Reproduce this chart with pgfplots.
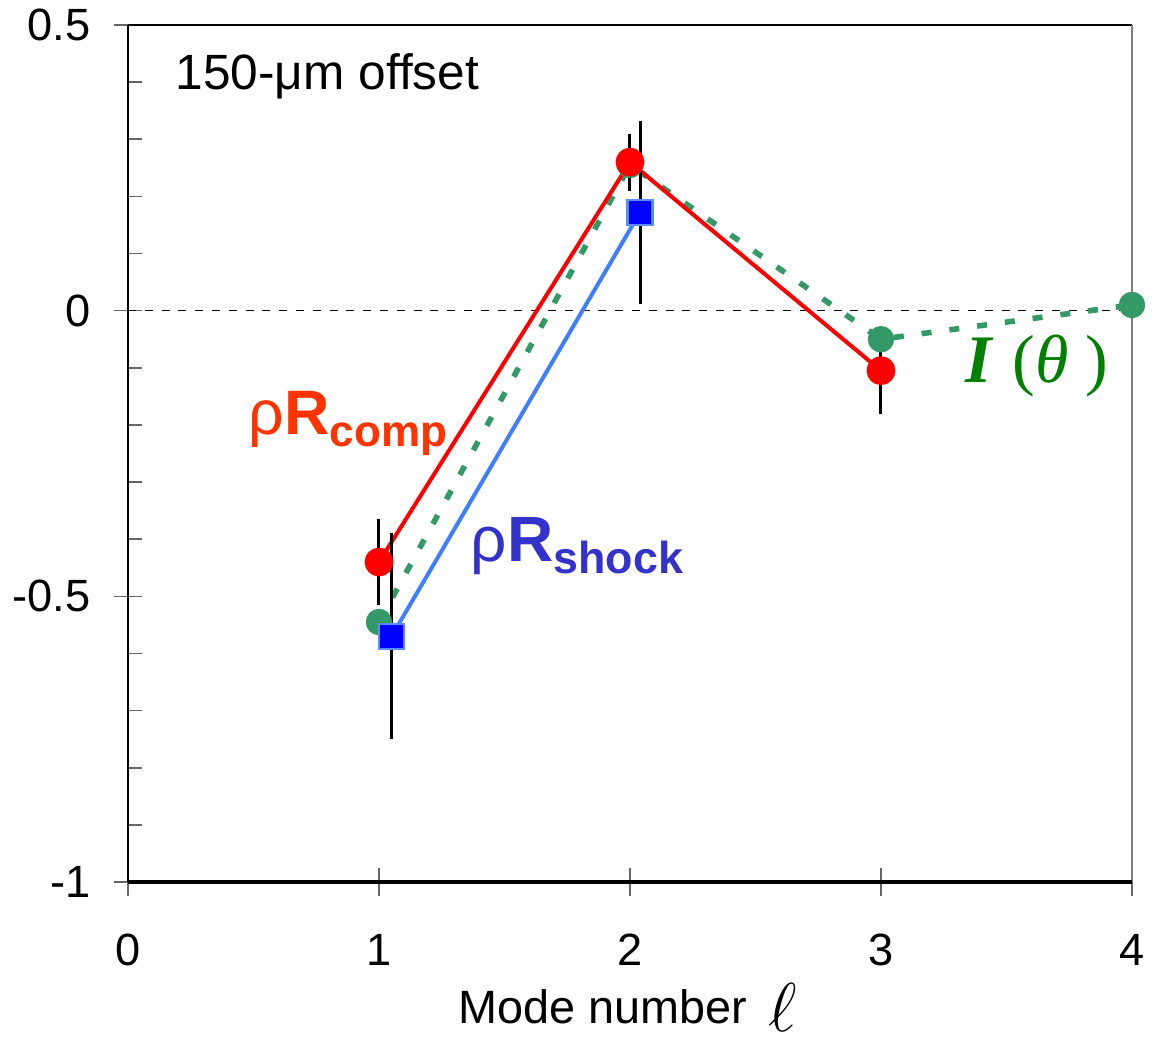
\documentclass[border=0pt]{standalone}
\usepackage{pgfplots}
\pgfplotsset{compat=1.18}
\usepackage{fontspec}
\setmainfont{Liberation Sans}
\newfontfamily\serif{Liberation Serif}
\definecolor{myred}{HTML}{FF0000}
\definecolor{mygreen}{HTML}{339966}
\definecolor{myblueline}{HTML}{3F7FFF}
\definecolor{mybluefill}{HTML}{0000FF}
\definecolor{mybluedraw}{HTML}{5A8CFF}
\definecolor{labred}{HTML}{FF3300}
\definecolor{labblue}{HTML}{3333CC}
\definecolor{labgreen}{HTML}{008000}
\begin{document}
\begin{tikzpicture}
\begin{axis}[
  scale only axis, width=251pt, height=214.25pt,
  xmin=0, xmax=4, ymin=-1, ymax=0.5,
  xtick={0,1,2,3,4}, ytick={-1,-0.5,0,0.5},
  minor y tick num=4,
  tick align=center, xtick pos=bottom, ytick pos=left,
  major tick length=7pt, minor tick length=3.5pt,
  every tick/.style={black!60, line width=0.4pt},
  every minor y tick/.append style={xshift=1.75pt},
  axis line style={draw=none},
  clip=false,
  /pgf/number format/assume math mode=true,
  ticklabel style={font=\fontsize{11.3}{13}\selectfont},
  yticklabel style={/pgf/number format/fixed, xshift=-2.3pt},
  xticklabel style={yshift=-6pt},
]
% axis frame
\draw[black, line width=0.5pt] (rel axis cs:0,0) -- (rel axis cs:0,1);
\draw[black, line width=0.5pt] (rel axis cs:0,1) -- (rel axis cs:1,1);
\draw[black!50, line width=0.5pt] (rel axis cs:1,1) -- (rel axis cs:1,0);
\draw[black, line width=0.8pt] (rel axis cs:0,0) -- (rel axis cs:1,0);
% zero line
\addplot[black, line width=0.3pt, dash pattern=on 2pt off 2.2pt, no marks] coordinates {(0,0) (4.064,0)};
% I(theta)
\addplot[mygreen, line width=1.4pt, dash pattern=on 2.5pt off 4.5pt, mark=*, mark size=3.2pt,
  mark options={solid, fill=mygreen, draw=mygreen, line width=0.2pt}]
  coordinates {(1,-0.545) (2,0.255) (3,-0.05) (4,0.01)};
% rho R comp
\addplot[myred, line width=1pt, mark=*, mark size=3.1pt, mark options={solid, fill=myred, draw=myred},
  error bars/.cd, y dir=both, y explicit, error mark=none,
  error bar style={black, line width=0.75pt, solid}]
  coordinates {(1,-0.44) += (0,0.075) -= (0,0.075)
               (2,0.26) += (0,0.05) -= (0,0.05)
               (3,-0.105) += (0,0.035) -= (0,0.075)};
% rho R shock
\addplot[myblueline, line width=1pt, mark=square*, mark size=3.1pt,
  mark options={solid, fill=mybluefill, draw=mybluedraw, line width=0.6pt},
  error bars/.cd, y dir=both, y explicit, error mark=none,
  error bar style={black, line width=0.75pt, solid}]
  coordinates {(1.05,-0.57) += (0,0.18) -= (0,0.18)
               (2.04,0.172) += (0,0.16) -= (0,0.16)};
% labels
\node[anchor=base west, inner sep=0pt, font=\fontsize{12.4}{14}\selectfont] at (axis cs:0.187,0.387) {150-μm offset};
\node[anchor=base west, text=labred, inner sep=0pt] at (axis cs:0.478,-0.217)
  {\fontsize{15.7}{18}\selectfont ρ\textbf{R}\raisebox{-3pt}{\fontsize{11}{13}\selectfont\bfseries comp}};
\node[anchor=base west, text=labblue, inner sep=0pt] at (axis cs:1.363,-0.439)
  {\fontsize{16}{18}\selectfont ρ\textbf{R}\raisebox{-3pt}{\fontsize{11.2}{13}\selectfont\bfseries shock}};
\node[anchor=base west, text=labgreen, inner sep=0pt] at (axis cs:3.335,-0.126)
  {\serif\fontsize{17}{20}\selectfont{\bfseries\itshape I}\hspace{0.3em}(\textit{θ}\hspace{0.25em})};
\node[anchor=base, inner sep=0pt] at (axis cs:1.99,-1.247)
  {\fontsize{11.7}{13}\selectfont Mode number\hspace{0.45em}{\fontsize{16}{16}\selectfont\raisebox{-2pt}{$\ell$}}};
\end{axis}
\pgfresetboundingbox
\useasboundingbox (-32pt,-39.25pt) rectangle (257.5pt,220.5pt);
\end{tikzpicture}
\end{document}
